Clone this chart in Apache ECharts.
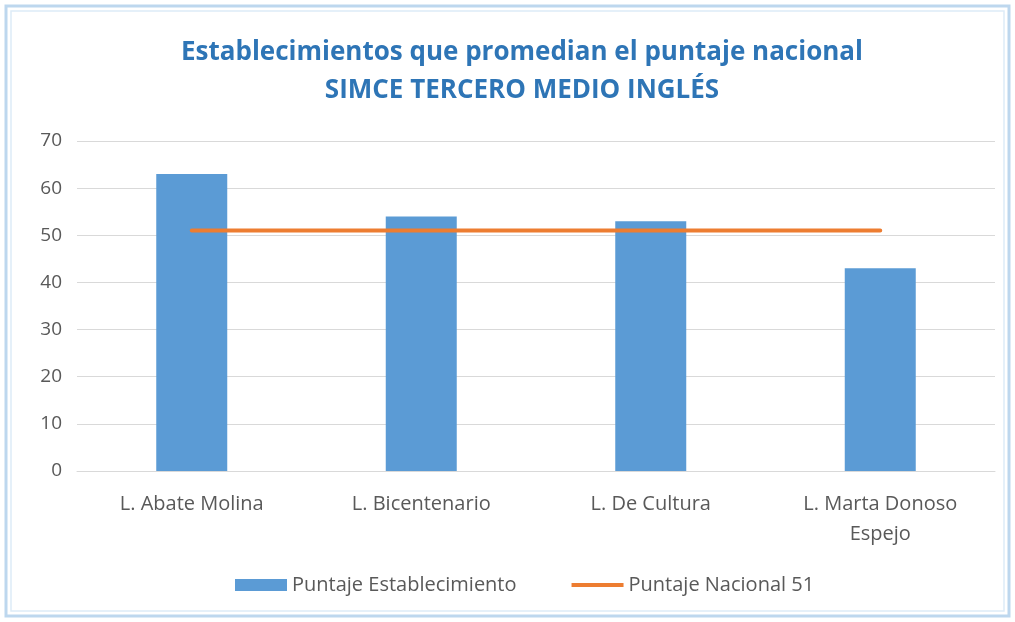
<!DOCTYPE html>
<html>
<head>
<meta charset="utf-8">
<script src="https://cdn.jsdelivr.net/npm/echarts@6/dist/echarts.min.js"></script>
<style>
  html, body { margin: 0; padding: 0; background: #fff; }
  #chart { width: 1015px; height: 622px; }
</style>
</head>
<body>
<div id="chart"></div>
<script>
// datos
const categorias = ['L. Abate Molina', 'L. Bicentenario', 'L. De Cultura', 'L. Marta Donoso\nEspejo']
const puntajeEstablecimiento = [63, 54, 53, 43]
const puntajeNacional = [51, 51, 51, 51]
const ticksY = [0, 10, 20, 30, 40, 50, 60, 70]

const fuente = "'Open Sans', sans-serif"
const chart = echarts.init(document.getElementById('chart'))

let option = {
  backgroundColor: '#fff',
  textStyle: { fontFamily: fuente },
  title: {
    text: 'Establecimientos que promedian el puntaje nacional\nSIMCE TERCERO MEDIO INGLÉS',
    left: 517,
    textAlign: 'center',
    top: 29,
    textStyle: {
      fontFamily: fuente,
      fontSize: 26,
      fontWeight: 'bold',
      color: '#2E75B6',
      lineHeight: 38,
    },
  },
  grid: {
    left: 77,
    right: 20,
    top: 141,
    bottom: 151,
  },
  legend: {
    bottom: 22,
    left: 230,
    itemWidth: 52,
    itemHeight: 12,
    itemGap: 55,
    textStyle: {
      fontFamily: fuente,
      fontSize: 20,
      color: '#595959',
    },
    data: [
      { name: 'Puntaje Establecimiento', icon: 'rect' },
      { name: 'Puntaje Nacional 51', icon: 'path://M0,0 H52 V4 H0 Z' },
    ],
  },
  xAxis: {
    type: 'category',
    data: categorias,
    axisLine: { lineStyle: { color: '#d9d9d9' } },
    axisTick: { show: false },
    axisLabel: {
      interval: 0,
      fontFamily: fuente,
      fontSize: 20,
      color: '#595959',
      margin: 18,
      lineHeight: 30,
    },
  },
  yAxis: {
    type: 'value',
    min: ticksY[0],
    max: ticksY[ticksY.length - 1],
    interval: 10,
    axisLine: { show: false },
    axisTick: { show: false },
    splitLine: { lineStyle: { color: '#d9d9d9' } },
    axisLabel: {
      fontFamily: fuente,
      fontSize: 19,
      color: '#595959',
      margin: 15,
    },
  },
  series: [
    {
      name: 'Puntaje Establecimiento',
      type: 'bar',
      data: puntajeEstablecimiento,
      barWidth: 71,
      itemStyle: { color: '#5B9BD5' },
    },
    {
      name: 'Puntaje Nacional 51',
      type: 'line',
      data: puntajeNacional,
      symbol: 'none',
      lineStyle: { color: '#ED7D31', width: 4, cap: 'round' },
      itemStyle: { color: '#ED7D31' },
    },
  ],
  graphic: [
    {
      type: 'rect',
      shape: { x: 6, y: 6, width: 1003, height: 610 },
      style: { fill: 'none', stroke: '#BDD7EE', lineWidth: 3 },
    },
    {
      type: 'rect',
      shape: { x: 11, y: 11, width: 993, height: 600 },
      style: { fill: 'none', stroke: '#DDEBF7', lineWidth: 1.5 },
    },
  ],
}

chart.setOption(option)
</script>
</body>
</html>
